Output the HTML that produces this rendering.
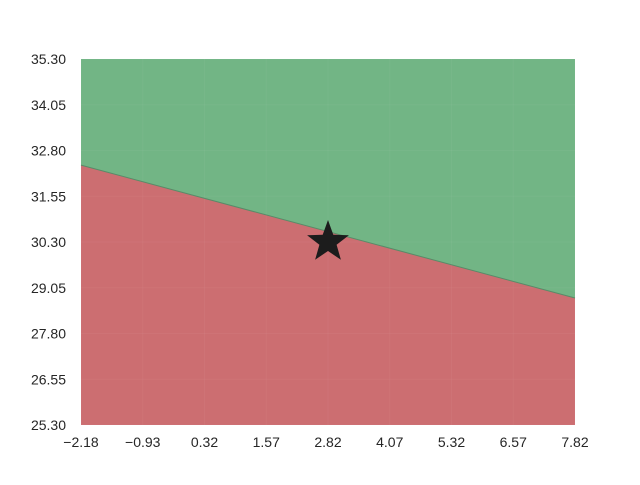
<!DOCTYPE html>
<html><head><meta charset="utf-8"><style>
body{margin:0;background:#fff;}
svg text{font-family:"Liberation Sans","DejaVu Sans",sans-serif;font-size:14px;fill:#262626;}
</style></head><body>
<svg id="chart" width="640" height="480" xmlns="http://www.w3.org/2000/svg"></svg>
<script>
const xTicks=["−2.18","−0.93","0.32","1.57","2.82","4.07","5.32","6.57","7.82"];
const yTicks=["25.30","26.55","27.80","29.05","30.30","31.55","32.80","34.05","35.30"];
const xDomain=[-2.18,7.82];
const yDomain=[25.30,35.30];
const boundaryY=[32.40,28.77];
const starPoint=[2.82,30.30];
const L=81,R=575,T=59,B=425;
const sx=v=>L+(v-xDomain[0])/(xDomain[1]-xDomain[0])*(R-L);
const sy=v=>B-(v-yDomain[0])/(yDomain[1]-yDomain[0])*(B-T);
const svg=document.getElementById('chart');
const NS='http://www.w3.org/2000/svg';
function mk(t,a){const e=document.createElementNS(NS,t);for(const k in a)e.setAttribute(k,a[k]);svg.appendChild(e);return e;}
const y0=sy(boundaryY[0]),y1=sy(boundaryY[1]);
let g=mk('polygon',{points:`${L},${T} ${R},${T} ${R},${y1} ${L},${y0}`,fill:'#72b585'});


let r=mk('polygon',{points:`${L},${y0} ${R},${y1} ${R},${B} ${L},${B}`,fill:'#cc6e71'});


xTicks.forEach((t,i)=>{const v=xDomain[0]+i*(xDomain[1]-xDomain[0])/(xTicks.length-1);const x=sx(v);
 const gl=mk('line',{x1:x,x2:x,y1:T,y2:B,stroke:'rgba(255,255,255,0.04)'});
 
 
 const tx=mk('text',{x:x,y:B+22,'text-anchor':'middle'});tx.textContent=t;
 
 });
yTicks.forEach((t,i)=>{const v=yDomain[0]+i*(yDomain[1]-yDomain[0])/(yTicks.length-1);const y=sy(v);
 const gl=mk('line',{x1:L,x2:R,y1:y,y2:y,stroke:'rgba(255,255,255,0.04)'});
 
 
 const tx=mk('text',{x:L-15,y:y+5,'text-anchor':'end'});tx.textContent=t;
 
 });
let bl=mk('line',{x1:L,y1:y0,x2:R,y2:y1,stroke:'#5a8a68','stroke-width':1});


const cx=sx(starPoint[0]),cy=sy(starPoint[1]);let pts=[];
for(let i=0;i<10;i++){const rr=i%2?9:22;const a=-Math.PI/2+i*Math.PI/5;pts.push((cx+rr*Math.cos(a)).toFixed(1)+','+(cy+rr*Math.sin(a)).toFixed(1));}
let st=mk('polygon',{points:pts.join(' '),fill:'#1c1c1c'});


</script>
</body></html>
